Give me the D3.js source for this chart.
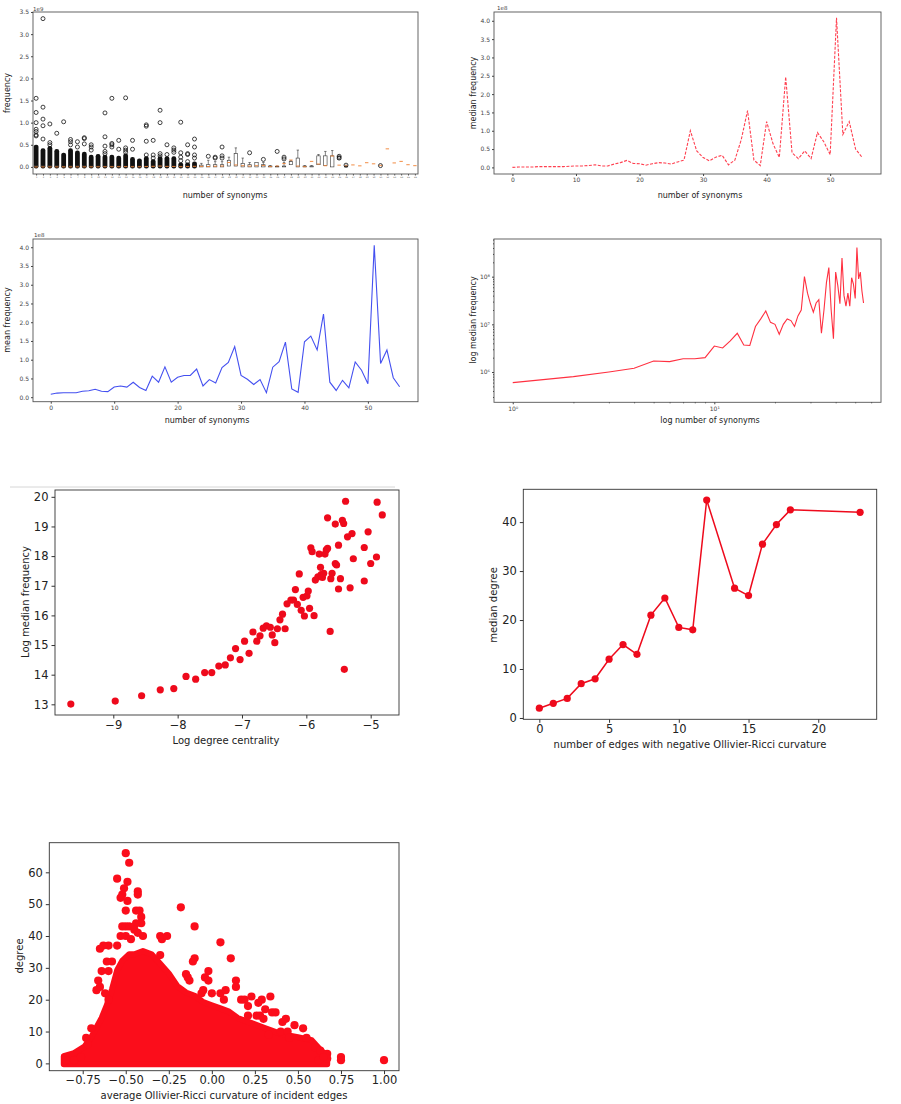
<!DOCTYPE html>
<html><head><meta charset="utf-8">
<script src="https://cdn.jsdelivr.net/npm/d3@7/dist/d3.min.js"></script>
<style>body{margin:0;background:#fff}svg{display:block}</style>
</head><body>
<svg id="c" width="901" height="1104"></svg>
<script>
// ---------- DATA ----------
const synIdx = d3.range(0, 56); // number of synonyms index 0..55 (category = idx+1)
const medianFreq = [0.0,0.01,0.01,0.01,0.02,0.02,0.02,0.02,0.02,0.03,0.04,0.04,0.05,0.07,0.04,0.04,0.09,0.13,0.19,0.11,0.10,0.06,0.10,0.13,0.12,0.09,0.15,0.20,1.00,0.45,0.27,0.18,0.28,0.33,0.07,0.20,0.75,1.55,0.20,0.05,1.25,0.65,0.27,2.47,0.40,0.24,0.45,0.24,0.95,0.70,0.35,4.08,0.90,1.25,0.50,0.28]; // 1e8
const logMedianFreq = [6e5,8e5,1.0e6,1.2e6,1.7e6,1.65e6,1.9e6,1.9e6,2.0e6,3.5e6,3.2e6,4.5e6,6.5e6,3.7e6,3.6e6,9e6,1.3e7,1.9e7,1.1e7,1.0e7,6.2e6,1.0e7,1.3e7,1.2e7,9e6,1.5e7,2e7,1.0e8,4.5e7,2.7e7,1.8e7,2.8e7,3.3e7,6.5e6,2.0e7,7.5e7,1.55e8,2.0e7,5e6,1.25e8,6.5e7,2.7e7,2.47e8,4.0e7,2.4e7,4.5e7,2.4e7,9.5e7,7.0e7,3.5e7,4.08e8,9.0e7,1.25e8,5.0e7,2.8e7];
const meanFreq = [0.08,0.11,0.12,0.12,0.12,0.16,0.17,0.21,0.16,0.15,0.27,0.30,0.27,0.40,0.26,0.18,0.56,0.40,0.81,0.40,0.53,0.58,0.58,0.75,0.30,0.47,0.38,0.79,0.93,1.35,0.58,0.48,0.34,0.47,0.12,0.80,0.95,1.47,0.22,0.13,1.48,1.63,1.26,2.22,0.40,0.18,0.45,0.25,0.94,0.72,0.36,4.05,0.90,1.26,0.52,0.28]; // 1e8

// boxplot (1e9): dense outlier stack top, box q1/q3, whisker top
const boxDenseTop = [0.48,0.40,0.45,0.38,0.30,0.40,0.35,0.32,0.25,0.27,0.25,0.25,0.23,0.28,0.20,0.17,0.22,0.15,0.22,0.22,0.22,0.08,0.08,0.10,0,0,0,0,0,0,0,0,0,0,0,0,0,0,0,0,0,0,0,0,0,0,0,0,0,0,0,0,0,0,0,0];
const boxQ1 = [0,0,0,0,0,0,0,0,0,0,0,0,0,0,0,0,0,0,0,0,0,0,0,0,0,0,0,0,0.02,0.02,0,0,0,0,0,0,0,0.05,0,0,0,0.05,0.03,0,0.17,0,0,0,0,0,0,0,0,0,0,0];
const boxQ3 = [0.03,0.03,0.03,0.03,0.02,0.03,0.03,0.03,0.02,0.02,0.02,0.02,0.02,0.02,0.02,0.02,0.02,0.02,0.02,0.02,0.02,0.02,0.02,0.02,0.04,0.05,0.05,0.05,0.15,0.30,0.08,0.05,0.10,0.05,0.02,0.01,0.02,0.12,0.20,0.02,0.02,0.25,0.25,0.25,0.24,0.01,0,0,0,0,0,0,0,0,0,0];
const boxWhisk = [0,0,0,0,0,0,0,0,0,0,0,0,0,0,0,0,0,0,0,0,0,0,0,0,0.08,0.15,0.12,0.12,0.22,0.43,0.20,0.10,0.10,0.10,0.03,0.02,0.10,0.14,0.38,0.03,0.03,0.28,0.35,0.37,0.25,0.04,0,0,0,0,0,0,0,0,0,0];
const boxOutliers = [[1,1.55],[1,1.23],[1,1.0],[1,0.85],[1,0.8],[1,0.72],[1,0.7],[2,3.35],[2,1.35],[2,1.08],[2,0.93],[2,0.63],[3,0.97],[3,0.55],[3,0.5],[4,0.76],[5,1.02],[6,0.62],[6,0.57],[6,0.5],[7,0.57],[7,0.45],[8,0.66],[8,0.64],[8,0.52],[9,0.5],[9,0.45],[9,0.38],[11,1.22],[11,0.68],[11,0.47],[11,0.35],[11,0.3],[12,1.55],[12,0.53],[12,0.5],[12,0.45],[13,0.6],[13,0.4],[14,1.56],[14,0.43],[14,0.38],[14,0.33],[15,0.6],[15,0.4],[17,0.95],[17,0.92],[17,0.58],[17,0.27],[18,0.6],[18,0.27],[18,0.2],[19,1.28],[19,1.0],[19,0.3],[19,0.25],[20,0.5],[20,0.28],[21,0.43],[21,0.38],[21,0.33],[22,1.01],[22,0.32],[22,0.22],[22,0.14],[23,0.5],[23,0.3],[23,0.28],[23,0.12],[24,0.63],[24,0.45],[24,0.27],[24,0.2],[26,0.24],[27,0.22],[27,0.2],[28,0.45],[28,0.25],[28,0.2],[32,0.32],[34,0.17],[36,0.35],[37,0.22],[37,0.18],[45,0.24],[45,0.2],[46,0.04],[51,0.03]];

const logDegCentrality = [-9.66,-8.97,-8.56,-8.27,-8.06,-7.87,-7.72,-7.58,-7.47,-7.36,-7.26,-7.18,-7.10,-7.03,-6.96,-6.89,-6.83,-6.77,-6.72,-6.67,-6.62,-6.56,-6.53,-6.49,-6.45,-6.41,-6.37,-6.33,-6.30,-6.24,-6.20,-6.17,-6.14,-6.11,-6.08,-6.05,-6.03,-5.99,-5.97,-5.95,-5.93,-5.91,-5.88,-5.86,-5.82,-5.80,-5.78,-5.77,-5.75,-5.73,-5.71,-5.69,-5.67,-5.67,-5.63,-5.62,-5.60,-5.55,-5.55,-5.53,-5.50,-5.50,-5.47,-5.44,-5.42,-5.41,-5.39,-5.36,-5.32,-5.29,-5.27,-5.10,-5.10,-5.04,-5.00,-4.91,-4.90,-4.82];
const logMedFreq2 = [13.01,13.11,13.29,13.49,13.53,13.94,13.85,14.07,14.07,14.29,14.33,14.57,14.88,14.51,15.13,14.72,15.44,15.13,15.31,15.57,15.65,15.60,15.34,15.08,15.55,15.85,16.04,15.55,16.39,16.52,16.52,16.87,16.37,17.40,16.17,16.61,15.98,16.66,16.82,16.24,18.28,18.15,15.99,17.19,17.30,18.07,17.62,17.38,17.28,17.42,18.07,18.21,18.26,19.29,15.46,17.24,17.42,19.08,17.75,17.70,18.37,16.89,17.24,19.21,19.10,14.18,19.85,18.65,16.93,18.76,17.91,17.16,18.29,18.82,17.75,17.97,19.82,19.39];

const negEdges = [0,1,2,3,4,5,6,7,8,9,10,11,12,14,15,16,17,18,23];
const medianDegree = [2,3,4,7,8,12,15,13,21,24.5,18.5,18,44.5,26.5,25,35.5,39.5,42.5,42];

// curvature scatter: dense envelope + sparse points
const envCurv = [-0.86,-0.80,-0.74,-0.70,-0.67,-0.64,-0.61,-0.58,-0.55,-0.52,-0.48,-0.45,-0.40,-0.35,-0.30,-0.25,-0.20,-0.15,-0.10,-0.05,0.00,0.05,0.10,0.15,0.20,0.30,0.40,0.50,0.58,0.63,0.67];
const envDegree = [1,2,4,7,10,13,17,22,28,31,33,33,34,33,30,27,23,21,20,18,17,16,15,13,12,10,8,7,6,3,1];
const ptCurv = [-0.50,-0.48,-0.55,-0.49,-0.51,-0.52,-0.53,-0.49,-0.50,-0.43,-0.43,-0.44,-0.42,-0.41,-0.41,-0.44,-0.45,-0.43,-0.52,-0.50,-0.48,-0.53,-0.50,-0.47,-0.40,-0.55,-0.60,-0.63,-0.65,-0.58,-0.61,-0.60,-0.64,-0.66,-0.65,-0.67,-0.62,-0.60,-0.70,-0.73,-0.72,-0.30,-0.29,-0.26,-0.30,-0.18,-0.10,-0.11,-0.10,-0.15,-0.14,-0.13,-0.04,-0.02,-0.02,0.05,0.11,0.14,0.14,-0.06,-0.05,0.00,0.05,0.08,0.07,0.17,0.19,0.23,0.21,0.27,0.29,0.34,0.31,0.35,0.37,0.21,0.26,0.28,0.30,0.41,0.43,0.40,0.44,0.48,0.53,0.55,0.60,0.63,0.67,0.67,0.75,0.75,1.00,0.62,-0.85,0.45,0.33,-0.80,-0.76,0.65];
const ptDegree = [66,63,58,57,55,53,52,51,48,54,53,48,48,46,44,44,42,41,43,43,43,40,40,39,40,37,37,37,36,32,32,29,29,26,24,23,22,20,11,8,6,40,39,40,34,49,43,32,33,28,27,26,27,29,26,38,33,26,24,22,23,22,22,23,20,20,20,21,18,19,20,21,17,16,16,15,15,15,14,13,14,10,10,12,11,8,5,4,3,1.5,2,1,1,1,1,8,9,1,2,2];

// ---------- DRAW ----------
const svg = d3.select('#c');
const red = '#fb0d1b';
const font = 'DejaVu Sans, sans-serif';

function frame(g, x0,y0,x1,y1, col){
  g.append('rect').attr('x',x0).attr('y',y0).attr('width',x1-x0).attr('height',y1-y0)
   .attr('fill','none').attr('stroke',col||'#333').attr('stroke-width',0.9);
}
function styleAxis(sel, fs, col){
  sel.selectAll('path').remove();
  sel.selectAll('line').attr('stroke',col||'#333');
  sel.selectAll('text').attr('font-family',font).attr('font-size',fs).attr('fill',col||'#222');
}
function label(txt,x,y,fs,rot){
  const t = svg.append('text').text(txt).attr('font-family',font).attr('font-size',fs).attr('fill','#222').attr('text-anchor','middle');
  if(rot) t.attr('transform',`translate(${x},${y}) rotate(-90)`); else t.attr('x',x).attr('y',y);
}

// Panel 1: boxplot
{
  const X0=33,X1=418,Y0=12,Y1=174;
  const x = d3.scaleLinear().domain([0.55,56.45]).range([X0,X1]);
  const y = d3.scaleLinear().domain([-0.16,3.5]).range([Y1,Y0]);
  const g = svg.append('g');
  const w=3.4;
  synIdx.forEach(i=>{
    const c=i+1, cx=x(c);
    if(boxDenseTop[i]>0){
      g.append('rect').attr('x',cx-2.4).attr('y',y(boxDenseTop[i])-1).attr('width',4.8).attr('height',y(0)-y(boxDenseTop[i])+2.5).attr('fill','#111').attr('rx',2.2);
    }
    if(boxQ3[i]>0){
      g.append('rect').attr('x',cx-w/2).attr('y',y(boxQ3[i])).attr('width',w).attr('height',Math.max(0.5,y(boxQ1[i])-y(boxQ3[i]))).attr('fill','none').attr('stroke','#333').attr('stroke-width',0.6);
    }
    if(boxWhisk[i]>boxQ3[i]){
      g.append('line').attr('x1',cx).attr('x2',cx).attr('y1',y(boxQ3[i])).attr('y2',y(boxWhisk[i])).attr('stroke','#333').attr('stroke-width',0.6);
      g.append('line').attr('x1',cx-1.2).attr('x2',cx+1.2).attr('y1',y(boxWhisk[i])).attr('y2',y(boxWhisk[i])).attr('stroke','#333').attr('stroke-width',0.6);
    }
    g.append('line').attr('x1',cx-w/2).attr('x2',cx+w/2).attr('y1',y(medianFreq[i]/10)).attr('y2',y(medianFreq[i]/10)).attr('stroke','#f08030').attr('stroke-width',0.9);
  });
  g.selectAll('circle.o').data(boxOutliers).join('circle').attr('cx',d=>x(d[0])).attr('cy',d=>y(d[1])).attr('r',2)
    .attr('fill','none').attr('stroke','#111').attr('stroke-width',0.8);
  frame(g,X0,Y0,X1,Y1,'#555');
  styleAxis(g.append('g').attr('transform',`translate(${X0},0)`).call(d3.axisLeft(y).tickValues(d3.range(0,3.51,0.5)).tickFormat(d3.format('.1f')).tickSize(2).tickPadding(2)),6,'#444');
  styleAxis(g.append('g').attr('transform',`translate(0,${Y1})`).call(d3.axisBottom(x).tickValues(d3.range(1,57)).tickFormat(d3.format('d')).tickSize(1.5).tickPadding(1)),2.2,'#555');
  svg.append('text').text('1e9').attr('x',X0).attr('y',Y0-1).attr('font-family',font).attr('font-size',5.5).attr('fill','#444');
  label('number of synonyms',225,198,8);
  label('frequency',10,93,8,true);
}

// Panel 2: median dashed
{
  const X0=494,X1=881,Y0=12,Y1=174;
  const x = d3.scaleLinear().domain([-2.9,58]).range([X0,X1]);
  const y = d3.scaleLinear().domain([-0.18,4.24]).range([Y1,Y0]);
  const g = svg.append('g');
  g.append('path').datum(synIdx).attr('d',d3.line().x(i=>x(i)).y(i=>y(medianFreq[i])))
    .attr('fill','none').attr('stroke','#ff4050').attr('stroke-width',1.1).attr('stroke-dasharray','3,1.5');
  frame(g,X0,Y0,X1,Y1,'#555');
  styleAxis(g.append('g').attr('transform',`translate(${X0},0)`).call(d3.axisLeft(y).tickValues(d3.range(0,4.01,0.5)).tickFormat(d3.format('.1f')).tickSize(2).tickPadding(2)),6,'#444');
  styleAxis(g.append('g').attr('transform',`translate(0,${Y1})`).call(d3.axisBottom(x).tickValues([0,10,20,30,40,50]).tickSize(2).tickPadding(2)),6,'#444');
  svg.append('text').text('1e8').attr('x',X0+3).attr('y',Y0-2).attr('font-family',font).attr('font-size',5.5).attr('fill','#444');
  label('number of synonyms',700,198,8);
  label('median frequency',476,93,8,true);
}

// Panel 3: mean
{
  const X0=33,X1=418,Y0=239,Y1=401.7;
  const x = d3.scaleLinear().domain([-2.8,57.9]).range([X0,X1]);
  const y = d3.scaleLinear().domain([-0.12,4.22]).range([Y1,Y0]);
  const g = svg.append('g');
  g.append('path').datum(synIdx).attr('d',d3.line().x(i=>x(i)).y(i=>y(meanFreq[i])))
    .attr('fill','none').attr('stroke','#4450f0').attr('stroke-width',1.1);
  frame(g,X0,Y0,X1,Y1,'#555');
  styleAxis(g.append('g').attr('transform',`translate(${X0},0)`).call(d3.axisLeft(y).tickValues(d3.range(0,4.01,0.5)).tickFormat(d3.format('.1f')).tickSize(2).tickPadding(2)),6,'#444');
  styleAxis(g.append('g').attr('transform',`translate(0,${Y1})`).call(d3.axisBottom(x).tickValues([0,10,20,30,40,50]).tickSize(2).tickPadding(2)),6,'#444');
  svg.append('text').text('1e8').attr('x',X0+1).attr('y',Y0-2).attr('font-family',font).attr('font-size',5.5).attr('fill','#444');
  label('number of synonyms',207,423,8);
  label('mean frequency',10,320,8,true);
}

// Panel 4: log-log
{
  const X0=494,X1=881,Y0=239,Y1=402.3;
  const x = d3.scaleLog().domain([Math.pow(10,-0.093),Math.pow(10,1.827)]).range([X0,X1]);
  const y = d3.scaleLog().domain([Math.pow(10,5.365),Math.pow(10,8.79)]).range([Y1,Y0]);
  const g = svg.append('g');
  g.append('path').datum(synIdx).attr('d',d3.line().x(i=>x(i+1)).y(i=>y(logMedianFreq[i])))
    .attr('fill','none').attr('stroke','#ff3040').attr('stroke-width',1.1);
  frame(g,X0,Y0,X1,Y1,'#555');
  const sup = {0:'⁰',1:'¹',6:'⁶',7:'⁷',8:'⁸'};
  const ya = g.append('g').attr('transform',`translate(${X0},0)`).call(d3.axisLeft(y).tickValues([1e6,1e7,1e8]).tickFormat(d=>'10'+sup[Math.round(Math.log10(d))]).tickSize(2).tickPadding(2));
  styleAxis(ya,6,'#444');
  g.append('g').attr('transform',`translate(${X0},0)`).call(d3.axisLeft(y).tickValues([3e5,4e5,5e5,6e5,7e5,8e5,9e5,2e6,3e6,4e6,5e6,6e6,7e6,8e6,9e6,2e7,3e7,4e7,5e7,6e7,7e7,8e7,9e7,2e8,3e8,4e8,5e8,6e8]).tickFormat('').tickSize(1)).call(s=>styleAxis(s,5,'#444'));
  const xa = g.append('g').attr('transform',`translate(0,${Y1})`).call(d3.axisBottom(x).tickValues([1,10]).tickFormat(d=>'10'+sup[Math.round(Math.log10(d))]).tickSize(2).tickPadding(2));
  styleAxis(xa,6,'#444');
  g.append('g').attr('transform',`translate(0,${Y1})`).call(d3.axisBottom(x).tickValues([2,3,4,5,6,7,8,9,20,30,40,50,60]).tickFormat('').tickSize(1)).call(s=>styleAxis(s,5,'#444'));
  label('log number of synonyms',710,423,8);
  label('log median frequency',476,320,8,true);
}

// faint separator line above panel 5
svg.append('line').attr('x1',10).attr('x2',395).attr('y1',487).attr('y2',487).attr('stroke','#ccc').attr('stroke-width',0.8);

// Panel 5: scatter
{
  const X0=55,X1=399,Y0=490,Y1=715;
  const x = d3.scaleLinear().domain([-9.906,-4.56]).range([X0,X1]);
  const y = d3.scaleLinear().domain([12.64,20.23]).range([Y1,Y0]);
  const g = svg.append('g');
  g.selectAll('circle').data(logDegCentrality).join('circle').attr('cx',d=>x(d)).attr('cy',(d,i)=>y(logMedFreq2[i])).attr('r',3.6).attr('fill','#ee0a1c');
  frame(g,X0,Y0,X1,Y1);
  styleAxis(g.append('g').attr('transform',`translate(${X0},0)`).call(d3.axisLeft(y).tickValues(d3.range(13,21)).tickSize(3.5).tickPadding(3)),11.5);
  styleAxis(g.append('g').attr('transform',`translate(0,${Y1})`).call(d3.axisBottom(x).tickValues([-9,-8,-7,-6,-5]).tickFormat(d=>'\u2212'+Math.abs(d)).tickSize(3.5).tickPadding(2)),11.5);
  label('Log degree centrality',226,744,10);
  label('Log median frequency',29,602,10,true);
}

// Panel 6: median degree line
{
  const X0=523.3,X1=876.7,Y0=489.3,Y1=719.3;
  const x = d3.scaleLinear().domain([-1.15,24.19]).range([X0,X1]);
  const y = d3.scaleLinear().domain([-0.27,46.7]).range([Y1,Y0]);
  const g = svg.append('g');
  g.append('path').datum(negEdges).attr('d',d3.line().x(d=>x(d)).y((d,i)=>y(medianDegree[i])))
    .attr('fill','none').attr('stroke','#ee0a1c').attr('stroke-width',1.5);
  g.selectAll('circle').data(negEdges).join('circle').attr('cx',d=>x(d)).attr('cy',(d,i)=>y(medianDegree[i])).attr('r',3.6).attr('fill','#ee0a1c');
  frame(g,X0,Y0,X1,Y1);
  styleAxis(g.append('g').attr('transform',`translate(${X0},0)`).call(d3.axisLeft(y).tickValues([0,10,20,30,40]).tickSize(3.5).tickPadding(3)),11.5);
  styleAxis(g.append('g').attr('transform',`translate(0,${Y1})`).call(d3.axisBottom(x).tickValues([0,5,10,15,20]).tickSize(3.5).tickPadding(2)),11.5);
  label('number of edges with negative Ollivier-Ricci curvature',690,748,10);
  label('median  degree',497,605,10,true);
}

// Panel 7: curvature scatter
{
  const X0=49.3,X1=399,Y0=842.7,Y1=1070.7;
  const x = d3.scaleLinear().domain([-0.944,1.087]).range([X0,X1]);
  const y = d3.scaleLinear().domain([-2.3,69.3]).range([Y1,Y0]);
  const g = svg.append('g');
  const env = envCurv.map((c,i)=>[c,envDegree[i]]);
  g.append('path').datum(env).attr('d',d3.area().x(d=>x(d[0])).y0(y(1)+4).y1(d=>y(d[1])-4))
    .attr('fill',red).attr('stroke',red).attr('stroke-width',6).attr('stroke-linejoin','round');
  g.selectAll('circle').data(ptCurv).join('circle').attr('cx',d=>x(d)).attr('cy',(d,i)=>y(ptDegree[i])).attr('r',4.1).attr('fill',red);
  frame(g,X0,Y0,X1,Y1);
  styleAxis(g.append('g').attr('transform',`translate(${X0},0)`).call(d3.axisLeft(y).tickValues([0,10,20,30,40,50,60]).tickSize(3.5).tickPadding(3)),11.5);
  styleAxis(g.append('g').attr('transform',`translate(0,${Y1})`).call(d3.axisBottom(x).tickValues([-0.75,-0.5,-0.25,0,0.25,0.5,0.75,1.0]).tickFormat(d=>(d<0?'\u2212':'')+Math.abs(d).toFixed(2)).tickSize(3.5).tickPadding(2)),11.5);
  label('average Ollivier-Ricci curvature of incident edges',224,1099,10);
  label('degree',23,956,10,true);
}
</script>
</body></html>
